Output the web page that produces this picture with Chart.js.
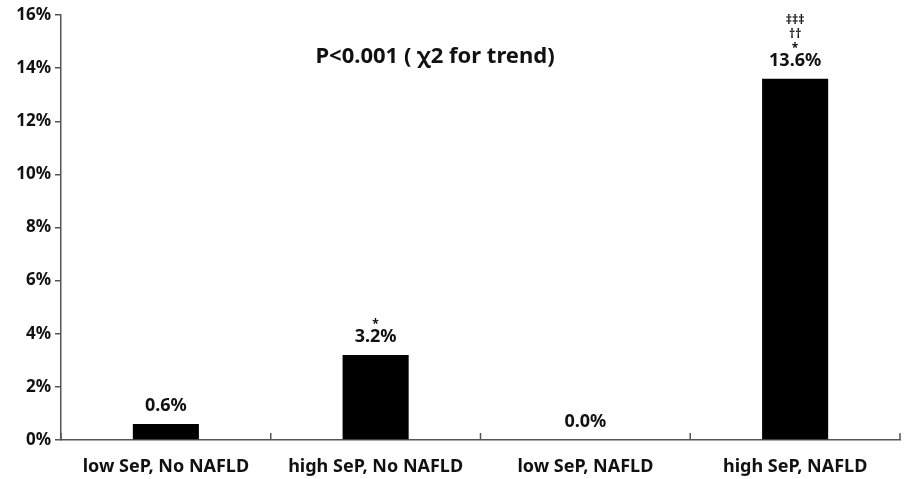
<!DOCTYPE html>
<html>
<head>
<meta charset="utf-8">
<script src="https://cdn.jsdelivr.net/npm/chart.js@4/dist/chart.umd.min.js"></script>
<style>
  html, body { margin: 0; padding: 0; background: #fff; }
  #wrap { width: 904px; height: 479px; }
</style>
</head>
<body>
<div id="wrap"><canvas id="c" width="904" height="479"></canvas></div>
<script>
const categories = ["low SeP, No NAFLD", "high SeP, No NAFLD", "low SeP, NAFLD", "high SeP, NAFLD"];
const values = [0.6, 3.2, 0.0, 13.6];
const valueLabels = ["0.6%", "3.2%", "0.0%", "13.6%"];
const markLabels = [[], ["*"], [], ["\u2021\u2021\u2021", "\u2020\u2020", "*"]];
const yTicks = [0, 2, 4, 6, 8, 10, 12, 14, 16];
const titleText = "P<0.001 ( \u03c72 for trend)";

const FONT = "'Noto Sans', 'DejaVu Sans', sans-serif";
const TEXT = "#111";
const AXIS = "#555";

const annot = {
  id: 'annot',
  afterDatasetsDraw(chart) {
    const ctx = chart.ctx;
    const meta = chart.getDatasetMeta(0);
    const xs = chart.scales.x;
    const area = chart.chartArea;
    const step = xs.getPixelForValue(1) - xs.getPixelForValue(0);
    ctx.save();
    // inward category ticks on x axis
    ctx.strokeStyle = AXIS;
    ctx.lineWidth = 1.5;
    for (let i = 0; i <= categories.length; i++) {
      const px = xs.getPixelForValue(0) - step / 2 + i * step;
      ctx.beginPath();
      ctx.moveTo(px, area.bottom);
      ctx.lineTo(px, area.bottom - 7);
      ctx.stroke();
    }
    ctx.fillStyle = TEXT;
    ctx.textAlign = 'center';
    ctx.textBaseline = 'alphabetic';
    meta.data.forEach((bar, i) => {
      const x = bar.x;
      let y = bar.y - 13;
      ctx.font = "bold 18px " + FONT;
      ctx.fillText(valueLabels[i], x, y);
      y -= 21;
      const marks = markLabels[i].slice().reverse();
      ctx.font = "bold 12px " + FONT;
      marks.forEach((m) => {
        ctx.fillText(m, x, y + 7);
        y -= 14;
      });
    });
    // title inside plot
    ctx.font = "bold 22px " + FONT;
    ctx.fillText(titleText, 435, 63);
    ctx.restore();
  }
};

new Chart(document.getElementById('c'), {
  type: 'bar',
  data: {
    labels: categories,
    datasets: [{
      data: values,
      backgroundColor: '#000',
      borderWidth: 0,
      barPercentage: 0.315,
      categoryPercentage: 1.0
    }]
  },
  options: {
    responsive: false,
    animation: false,
    devicePixelRatio: 1,
    layout: { padding: { top: 15, right: 4, left: 0, bottom: 0 } },
    plugins: { legend: { display: false }, tooltip: { enabled: false }, title: { display: false } },
    scales: {
      x: {
        offset: true,
        grid: { display: false, drawTicks: false },
        border: { display: true, color: AXIS, width: 1.5 },
        ticks: { color: TEXT, font: { family: FONT, size: 18, weight: 'bold' }, padding: 16, maxRotation: 0 },
        afterFit(s) { s.height = 39; }
      },
      y: {
        min: 0, max: 16,
        afterBuildTicks(s) { s.ticks = yTicks.map(v => ({ value: v })); },
        grid: { display: true, drawOnChartArea: false, drawTicks: true, tickLength: 6, color: AXIS, lineWidth: 1.5 },
        border: { display: true, color: AXIS, width: 1.5 },
        ticks: { color: TEXT, font: { family: FONT, size: 17, weight: 'bold' }, padding: 4, callback: v => v + '%' },
        afterFit(s) { s.width = 61; }
      }
    }
  },
  plugins: [annot]
});
</script>
</body>
</html>
